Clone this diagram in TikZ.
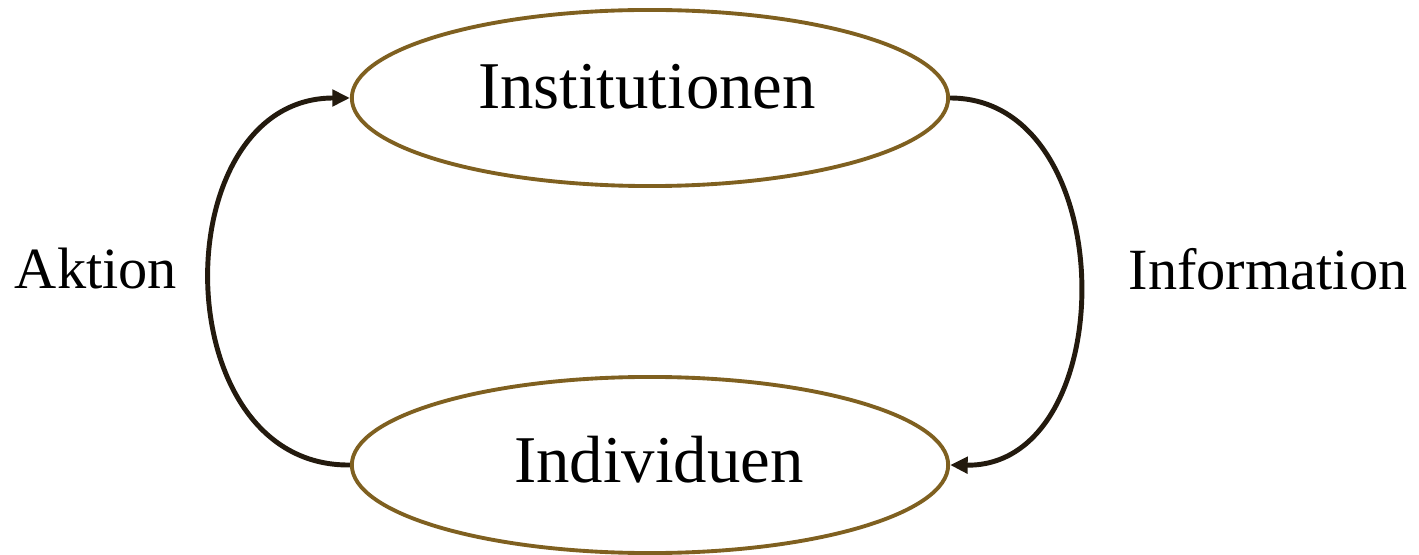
\documentclass[tikz,border=0pt]{standalone}
\usepackage{fontspec}
\setmainfont{Liberation Serif}
\usetikzlibrary{shapes.geometric,arrows.meta}
\definecolor{ringcol}{HTML}{7F6020}
\definecolor{arrcol}{HTML}{231A0E}
\tikzset{
  ring/.style={draw=ringcol, line width=1.1pt, ellipse, minimum width=5.96cm, minimum height=1.76cm, inner sep=0pt},
  bigtxt/.style={font=\fontsize{19}{22}\selectfont, inner sep=0pt},
  sidetxt/.style={font=\fontsize{16.6}{20}\selectfont, inner sep=0pt},
  flow/.style={draw=arrcol, line width=1.4pt, -{Triangle[length=5pt,width=4.6pt]}}
}
\begin{document}
\begin{tikzpicture}[x=0.01cm,y=-0.01cm]
\useasboundingbox (0,0) rectangle (1419,555);
\node[ring] (inst) at (650,98) {};
\node[ring] (ind) at (650,465) {};
\node[bigtxt, anchor=base] (insttxt) at (647,109) {Institutionen};
\node[bigtxt, anchor=base] (indtxt) at (659,482) {Individuen};
\node[sidetxt, anchor=base] (akt) at (96,288) {Aktion};
\node[sidetxt, anchor=base] (info) at (1268,290) {Information};
\draw[flow] (ind.west) .. controls (163,467) and (163,98) .. (inst.west);
\draw[flow] (inst.east) .. controls (1123,98) and (1123,467) .. (ind.east);
\end{tikzpicture}
\end{document}
